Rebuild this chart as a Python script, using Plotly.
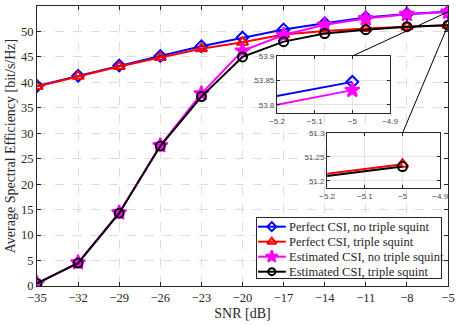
import plotly.graph_objects as go

# SNR points [dB]
snr = [-35, -32, -29, -26, -23, -20, -17, -14, -11, -8, -5]

# average spectral efficiency [bit/s/Hz]
perfect_no_squint = [39.3, 41.3, 43.3, 45.2, 47.1, 48.8, 50.4, 51.6, 52.75, 53.41, 53.847]
perfect_squint = [39.2, 41.2, 43.1, 44.9, 46.6, 47.9, 49.4, 50.1, 50.6, 50.935, 51.235]
est_no_squint = [0.5, 4.6, 14.4, 27.6, 37.8, 46.2, 49.3, 51.3, 52.55, 53.38, 53.83]
est_squint = [0.5, 4.5, 14.3, 27.5, 37.2, 45.0, 48.0, 49.6, 50.35, 50.93, 51.23]

names = ['Perfect CSI, no triple squint', 'Perfect CSI, triple squint',
         'Estimated CSI, no triple squint', 'Estimated CSI, triple squint']

# zoom windows
zoom_x = [-5.2, -4.9]
zoom1_y = [53.783, 53.9]
zoom2_y = [51.185, 51.3]
zoom1_ticks = [53.8, 53.85, 53.9]
zoom2_ticks = [51.2, 51.25, 51.3]
zoom_xticks = [-5.2, -5.1, -5, -4.9]

serif = 'Liberation Serif, Times New Roman, serif'
sans = 'Liberation Sans, Arial, sans-serif'

styles = [
    dict(color='#0000ff', symbol='diamond-open', size=9),
    dict(color='#ff0000', symbol='triangle-up-open', size=10),
    dict(color='#ff00ff', symbol='star', size=11),
    dict(color='#000000', symbol='circle-open', size=9),
]
series = [perfect_no_squint, perfect_squint, est_no_squint, est_squint]

fig = go.Figure()

for ys, st, nm in zip(series, styles, names):
    fig.add_trace(go.Scatter(
        x=snr, y=ys, name=nm, mode='lines+markers', showlegend=False,
        line=dict(color=st['color'], width=2),
        marker=dict(symbol=st['symbol'], size=st['size'], color=st['color'],
                    line=dict(color=st['color'], width=2)),
        xaxis='x', yaxis='y'))

# insets (zoomed views of the last segment)
for ax, idx in [('2', [0, 2]), ('3', [1, 3])]:
    for i in idx:
        st = styles[i]
        fig.add_trace(go.Scatter(
            x=snr[-2:], y=series[i][-2:], mode='lines', showlegend=False,
            line=dict(color=st['color'], width=2),
            xaxis='x' + ax, yaxis='y' + ax))
        fig.add_trace(go.Scatter(
            x=snr[-1:], y=series[i][-1:], mode='markers', showlegend=False,
            marker=dict(symbol=st['symbol'], size=st['size'], color=st['color'],
                        line=dict(color=st['color'], width=2)),
            xaxis='x' + ax, yaxis='y' + ax))

# compact legend drawn on its own small axis pair (plotly's legend rows are too tall)
for i, (st, nm) in enumerate(zip(styles, names)):
    row = 3.42 - i
    fig.add_trace(go.Scatter(
        x=[0.006, 0.157], y=[row, row], mode='lines', showlegend=False, hoverinfo='skip',
        line=dict(color=st['color'], width=2), xaxis='x4', yaxis='y4'))
    fig.add_trace(go.Scatter(
        x=[0.081], y=[row], mode='markers', showlegend=False, hoverinfo='skip',
        marker=dict(symbol=st['symbol'], size=st['size'] - 2, color=st['color'],
                    line=dict(color=st['color'], width=2)),
        xaxis='x4', yaxis='y4'))
    fig.add_annotation(x=0.163, y=row, xref='x4', yref='y4', text=nm, showarrow=False,
                       xanchor='left', yanchor='middle',
                       font=dict(family=serif, size=12.5, color='#262626'))

dom1_x = [0.584, 0.859]
dom1_y = [0.618, 0.821]
dom2_x = [0.706, 0.981]
dom2_y = [0.35, 0.546]
leg_x = [0.535, 0.983]
leg_y = [0.0286, 0.243]

inset_ax = dict(showline=True, linecolor='#262626', linewidth=1.2, mirror='ticks',
                ticks='inside', ticklen=3, tickcolor='#262626', automargin=False,
                showgrid=True, gridcolor='#e3e3e3', gridwidth=1, zeroline=False,
                tickfont=dict(family=sans, size=8, color='#4d4d4d'))

main_ax = dict(showline=True, linecolor='#262626', linewidth=1, mirror='ticks',
               ticks='inside', ticklen=4, tickcolor='#262626', automargin=False,
               showgrid=True, gridcolor='#dcdcdc', griddash='dash', gridwidth=1,
               zeroline=False, tickfont=dict(family=serif, size=12.5, color='#262626'))

legend_ax = dict(showline=True, linecolor='#262626', linewidth=1, mirror=True,
                 showgrid=False, zeroline=False, showticklabels=False, ticks='',
                 automargin=False, fixedrange=True)

fig.update_layout(
    width=457, height=326,
    margin=dict(l=37, r=9, t=6, b=40, autoexpand=False),
    plot_bgcolor='white', paper_bgcolor='white',
    font=dict(family=serif, color='#262626'),
    showlegend=False,
    xaxis=dict(main_ax, range=[-35, -5], tickvals=snr, domain=[0, 1],
               title=dict(text='SNR [dB]', font=dict(family=serif, size=14, color='#262626'),
                          standoff=4)),
    yaxis=dict(main_ax, range=[0, 55], dtick=5, domain=[0, 1],
               title=dict(text='Average Spectral Efficiency [bit/s/Hz]',
                          font=dict(family=serif, size=14, color='#262626'), standoff=2)),
    xaxis2=dict(inset_ax, range=zoom_x, tickvals=zoom_xticks, domain=dom1_x, anchor='y2'),
    yaxis2=dict(inset_ax, range=zoom1_y, tickvals=zoom1_ticks,
                ticktext=[str(v) for v in zoom1_ticks], domain=dom1_y, anchor='x2'),
    xaxis3=dict(inset_ax, range=zoom_x, tickvals=zoom_xticks, domain=dom2_x, anchor='y3'),
    yaxis3=dict(inset_ax, range=zoom2_y, tickvals=zoom2_ticks,
                ticktext=[str(v) for v in zoom2_ticks], domain=dom2_y, anchor='x3'),
    xaxis4=dict(legend_ax, range=[0, 1], domain=leg_x, anchor='y4'),
    yaxis4=dict(legend_ax, range=[0, 4], domain=leg_y, anchor='x4'),
)

# white background behind each inset and the legend box
for ax in ['2', '3', '4']:
    fig.add_shape(type='rect', xref='x' + ax + ' domain', yref='y' + ax + ' domain',
                  x0=0, x1=1, y0=0, y1=1, fillcolor='white', line_width=0, layer='below')

# connector lines from inset top to the zoomed point
def frac(v, lo, hi):
    return (v - lo) / (hi - lo)

for dom_x, dom_y, ys in [(dom1_x, dom1_y, perfect_no_squint), (dom2_x, dom2_y, est_squint)]:
    xs = dom_x[0] + frac(snr[-1], *zoom_x) * (dom_x[1] - dom_x[0])
    fig.add_shape(type='line', xref='paper', yref='paper',
                  x0=xs, y0=dom_y[1], x1=1, y1=frac(ys[-1], 0, 55),
                  line=dict(color='black', width=1), layer='above')

# page body has a default 8px margin; drop it so the figure fills the window
fig.write_html("out.html", config={'displayModeBar': False},
               post_script="document.body.style.margin='0';")
